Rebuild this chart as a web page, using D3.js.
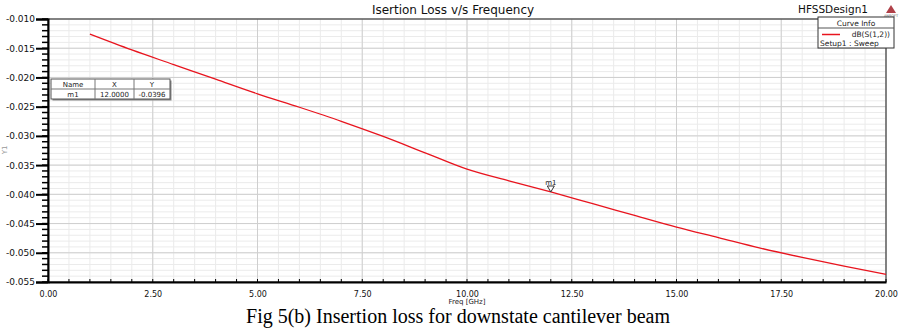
<!DOCTYPE html>
<html>
<head>
<meta charset="utf-8">
<script src="https://cdn.jsdelivr.net/npm/d3@7"></script>
<style>
  body { margin: 0; background: #fff; }
  svg { font-family: "DejaVu Sans", sans-serif; }
</style>
</head>
<body>
<svg id="chart" width="906" height="328"></svg>
<script>
var width = 906, height = 328

// data
var freq = [1, 2, 3, 4, 5, 6, 7, 8, 9, 10, 11, 12, 13, 14, 15, 16, 17, 18, 19, 20]
var lossDb = [-0.0126, -0.0153, -0.0178, -0.0203, -0.0228, -0.0251, -0.0275, -0.0301, -0.0329, -0.0357,
              -0.0377, -0.0396, -0.0416, -0.0436, -0.0456, -0.0474, -0.0492, -0.0508, -0.0523, -0.0537]
var xTicks = [0, 2.5, 5, 7.5, 10, 12.5, 15, 17.5, 20]
var yTicks = [-0.010, -0.015, -0.020, -0.025, -0.030, -0.035, -0.040, -0.045, -0.050, -0.055]
var marker = { name: "m1", x: 12, y: -0.0396 }

var margin = { left: 48, right: 20, top: 19, bottom: 46 }

var svg = d3.select("#chart")

var x = d3.scaleLinear().domain([0, 20]).range([margin.left, width - margin.right])
var y = d3.scaleLinear().domain([-0.055, -0.010]).range([height - margin.bottom, margin.top])

// grid: minor first, then major
var minorX = d3.range(0, 20.001, 0.5)
var minorY = d3.range(-0.055, -0.0099, 0.001)

svg.append("g").selectAll("line").data(minorX).enter().append("line")
  .attr("x1", d => x(d)).attr("x2", d => x(d))
  .attr("y1", y(-0.010)).attr("y2", y(-0.055))
  .attr("stroke", "#ebebeb").attr("stroke-width", 1)

svg.append("g").selectAll("line").data(minorY).enter().append("line")
  .attr("x1", x(0)).attr("x2", x(20))
  .attr("y1", d => y(d)).attr("y2", d => y(d))
  .attr("stroke", "#ebebeb").attr("stroke-width", 1)

svg.append("g").selectAll("line").data(xTicks).enter().append("line")
  .attr("x1", d => x(d)).attr("x2", d => x(d))
  .attr("y1", y(-0.010)).attr("y2", y(-0.055))
  .attr("stroke", "#cfcfcf").attr("stroke-width", 1)

svg.append("g").selectAll("line").data(yTicks).enter().append("line")
  .attr("x1", x(0)).attr("x2", x(20))
  .attr("y1", d => y(d)).attr("y2", d => y(d))
  .attr("stroke", "#cfcfcf").attr("stroke-width", 1)

// frame
svg.append("rect")
  .attr("x", x(0)).attr("y", y(-0.010))
  .attr("width", x(20) - x(0)).attr("height", y(-0.055) - y(-0.010))
  .attr("fill", "none").attr("stroke", "#222").attr("stroke-width", 1)

// y axis
var yAxis = d3.axisLeft(y).tickValues(yTicks).tickFormat(d => d.toFixed(3)).tickSize(12).tickPadding(1)
var gy = svg.append("g").attr("transform", "translate(" + x(0) + ",0)").call(yAxis)
gy.select(".domain").attr("stroke", "#000").attr("stroke-width", 2)
gy.selectAll(".tick line").attr("stroke", "#000").attr("stroke-width", 2)
gy.selectAll("text").attr("font-size", 9).attr("fill", "#111").style("font-family", "DejaVu Sans, sans-serif")

svg.append("g").selectAll("line").data(minorY).enter().append("line")
  .attr("x1", x(0) - 6).attr("x2", x(0))
  .attr("y1", d => y(d)).attr("y2", d => y(d))
  .attr("stroke", "#000").attr("stroke-width", 1.5)

// x axis
var xAxis = d3.axisBottom(x).tickValues(xTicks).tickFormat(d => d.toFixed(2)).tickSize(0).tickPadding(9)
var gx = svg.append("g").attr("transform", "translate(0," + y(-0.055) + ")").call(xAxis)
gx.select(".domain").attr("stroke", "#000").attr("stroke-width", 2)
gx.selectAll("text").attr("font-size", 8).attr("fill", "#111").style("font-family", "DejaVu Sans, sans-serif")

svg.append("g").selectAll("line").data(minorX).enter().append("line")
  .attr("x1", d => x(d)).attr("x2", d => x(d))
  .attr("y1", y(-0.055)).attr("y2", y(-0.055) - 3)
  .attr("stroke", "#000").attr("stroke-width", 1)

svg.append("text").attr("x", x(10)).attr("y", 304).attr("text-anchor", "middle")
  .attr("font-size", 7).attr("fill", "#222").text("Freq [GHz]")

svg.append("text").attr("transform", "translate(7,150) rotate(-90)").attr("text-anchor", "middle")
  .attr("font-size", 7).attr("fill", "#999").text("Y1")

// curve
var line = d3.line().x((d, i) => x(freq[i])).y(d => y(d)).curve(d3.curveMonotoneX)
svg.append("path").datum(lossDb).attr("d", line)
  .attr("fill", "none").attr("stroke", "#e8141e").attr("stroke-width", 1.3)

// marker m1
var mx = x(marker.x), my = y(marker.y)
svg.append("path")
  .attr("d", "M" + (mx - 3.5) + "," + (my - 6) + "L" + (mx + 3.5) + "," + (my - 6) + "L" + mx + "," + my + "Z")
  .attr("fill", "#fff").attr("stroke", "#333").attr("stroke-width", 1)
svg.append("text").attr("x", mx).attr("y", my - 7).attr("text-anchor", "middle")
  .attr("font-size", 7).attr("fill", "#222").text(marker.name)

// marker table
var tbl = svg.append("g").attr("transform", "translate(51,79)")
var cols = [0, 44, 83, 119]
tbl.append("rect").attr("x", 1.5).attr("y", 1.5).attr("width", 119).attr("height", 20).attr("fill", "#888")
tbl.append("rect").attr("width", 119).attr("height", 20).attr("fill", "#fff").attr("stroke", "#555").attr("stroke-width", 1)
tbl.append("line").attr("x1", 0).attr("x2", 119).attr("y1", 10).attr("y2", 10).attr("stroke", "#777")
tbl.selectAll(".c").data(cols.slice(1, 3)).enter().append("line")
  .attr("x1", d => d).attr("x2", d => d).attr("y1", 0).attr("y2", 20).attr("stroke", "#777")
var hdr = ["Name", "X", "Y"]
var vals = [marker.name, marker.x.toFixed(4), marker.y.toFixed(4)]
hdr.forEach(function(h, i) {
  var cx = (cols[i] + cols[i + 1]) / 2
  tbl.append("text").attr("x", cx).attr("y", 8).attr("text-anchor", "middle").attr("font-size", 7).attr("fill", "#222").text(h)
  tbl.append("text").attr("x", cx).attr("y", 18).attr("text-anchor", "middle").attr("font-size", 7).attr("fill", "#222").text(vals[i])
})

// title
svg.append("text").attr("x", 453).attr("y", 14).attr("text-anchor", "middle")
  .attr("font-size", 12).attr("fill", "#111").text("Isertion Loss v/s Frequency")
svg.append("text").attr("x", 868).attr("y", 13).attr("text-anchor", "end")
  .attr("font-size", 10.5).attr("fill", "#111").text("HFSSDesign1")

// ansoft logo
var logo = svg.append("g").attr("transform", "translate(891,5)")
logo.append("path").attr("d", "M0,0L5,8L-5,8Z").attr("fill", "#b04048")
logo.append("text").attr("x", 0).attr("y", 12).attr("text-anchor", "middle").attr("font-size", 3.5).attr("fill", "#555").text("ANSOFT")

// legend
var leg = svg.append("g").attr("transform", "translate(818,17)")
leg.append("rect").attr("width", 76).attr("height", 31).attr("fill", "#fff").attr("stroke", "#333")
leg.append("line").attr("x1", 0).attr("x2", 76).attr("y1", 11).attr("y2", 11).attr("stroke", "#555")
leg.append("text").attr("x", 38).attr("y", 8.5).attr("text-anchor", "middle").attr("font-size", 7.5).attr("fill", "#222").text("Curve Info")
leg.append("line").attr("x1", 4).attr("x2", 22).attr("y1", 17.5).attr("y2", 17.5).attr("stroke", "#e8141e").attr("stroke-width", 1.5)
leg.append("text").attr("x", 72).attr("y", 20).attr("text-anchor", "end").attr("font-size", 7.5).attr("fill", "#222").text("dB(S(1,2))")
leg.append("text").attr("x", 2).attr("y", 28.5).attr("font-size", 7.5).attr("fill", "#222").text("Setup1 : Sweep")

// caption
svg.append("text").attr("x", 458).attr("y", 323).attr("text-anchor", "middle")
  .style("font-family", "'Liberation Serif', 'DejaVu Serif', serif").attr("font-size", 20).attr("fill", "#000")
  .attr("textLength", 424).attr("lengthAdjust", "spacingAndGlyphs")
  .text("Fig 5(b) Insertion loss for downstate cantilever beam")
</script>
</body>
</html>
